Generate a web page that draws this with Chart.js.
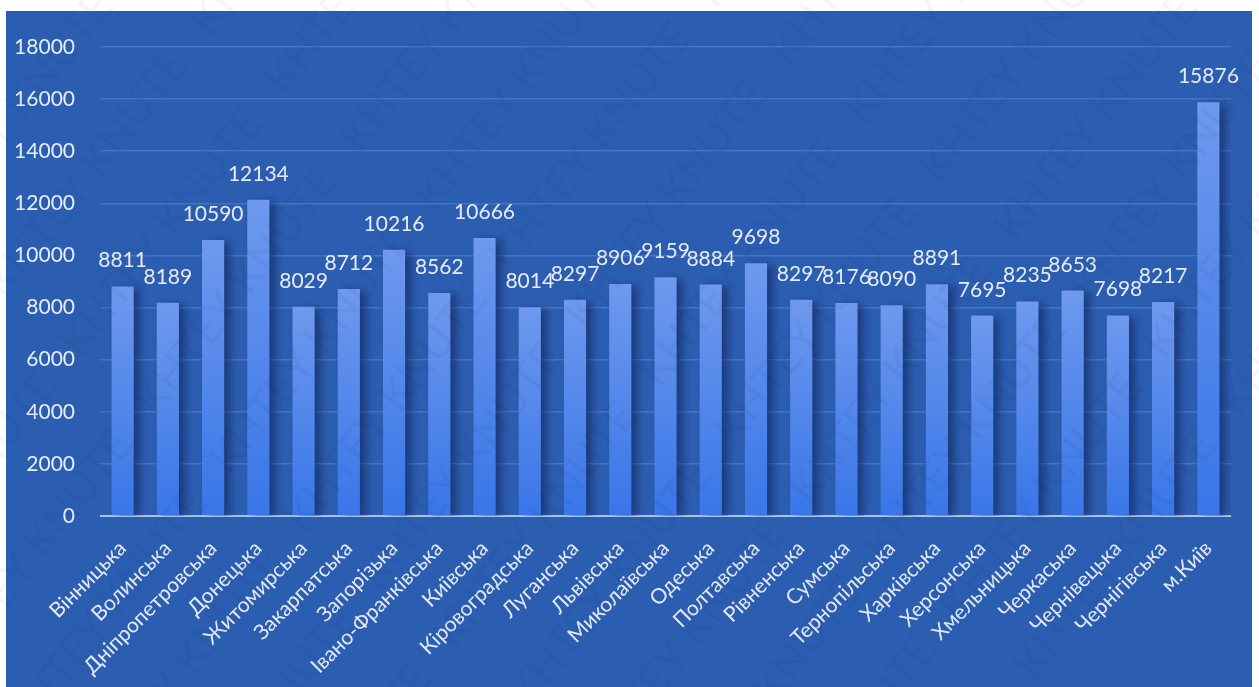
<!DOCTYPE html>
<html>
<head>
<meta charset="utf-8">
<script src="https://cdn.jsdelivr.net/npm/chart.js@4.4.1/dist/chart.umd.min.js"></script>
<style>
    html, body { margin: 0; padding: 0; background: #fff; overflow: hidden; }
    #wrap { width: 1259px; height: 687px; }
</style>
</head>
<body>
<div id="wrap"><canvas id="chart" width="1259" height="687"></canvas></div>
<script>
const regions = [
    'Вінницька', 'Волинська', 'Дніпропетровська', 'Донецька', 'Житомирська',
    'Закарпатська', 'Запорізька', 'Івано-Франківська', 'Київська', 'Кіровоградська',
    'Луганська', 'Львівська', 'Миколаївська', 'Одеська', 'Полтавська',
    'Рівненська', 'Сумська', 'Тернопільська', 'Харківська', 'Херсонська',
    'Хмельницька', 'Черкаська', 'Чернівецька', 'Чернігівська', 'м.Київ'
];
const values = [
    8811, 8189, 10590, 12134, 8029,
    8712, 10216, 8562, 10666, 8014,
    8297, 8906, 9159, 8884, 9698,
    8297, 8176, 8090, 8891, 7695,
    8235, 8653, 7698, 8217, 15876
];
const yMax = 18000;
const yStep = 2000;
const watermark = 'KHTEY KNUTE';

const FONT = 'Lato, "Open Sans", sans-serif';

// blue panel behind the plot (page has a thin white margin)
const panel = {
    id: 'panel',
    beforeDraw(chart) {
        const ctx = chart.ctx;
        ctx.save();
        ctx.fillStyle = '#2b5db1';
        ctx.fillRect(6, 11, 1246, 676);
        ctx.restore();
    }
};

// dark drop shadow to the right of each bar
const barShadow = {
    id: 'barShadow',
    beforeDatasetDraw(chart) {
        const ctx = chart.ctx;
        ctx.save();
        ctx.shadowColor = 'rgba(12, 30, 80, 0.55)';
        ctx.shadowBlur = 9;
        ctx.shadowOffsetX = 6;
        ctx.shadowOffsetY = 2;
    },
    afterDatasetDraw(chart) {
        chart.ctx.restore();
    }
};

const valueLabels = {
    id: 'valueLabels',
    afterDatasetsDraw(chart) {
        const ctx = chart.ctx;
        const meta = chart.getDatasetMeta(0);
        ctx.save();
        ctx.font = '21px ' + FONT;
        ctx.fillStyle = '#e6ebf4';
        ctx.textAlign = 'center';
        ctx.textBaseline = 'alphabetic';
        meta.data.forEach((bar, i) => {
            ctx.fillText(String(values[i]), bar.x, bar.y - 19);
        });
        ctx.restore();
    }
};

// faint diagonal watermark over everything
const watermarkPlugin = {
    id: 'watermark',
    afterDraw(chart) {
        const ctx = chart.ctx;
        ctx.save();
        ctx.font = '44px ' + FONT;
        ctx.fillStyle = 'rgba(10, 25, 70, 0.045)';
        ctx.rotate(-52 * Math.PI / 180);
        const line = (watermark + '   ').repeat(8);
        for (let k = -14; k < 14; k++) {
            ctx.fillText(line, -900, k * 95);
        }
        ctx.restore();
    }
};

function barGradient(c) {
    const chart = c.chart;
    if (!chart.chartArea || c.type !== 'data') return '#4b84e8';
    const y = chart.scales.y;
    const top = y.getPixelForValue(c.raw);
    const bottom = y.getPixelForValue(0);
    const g = chart.ctx.createLinearGradient(0, top, 0, bottom);
    g.addColorStop(0, '#6e99ee');
    g.addColorStop(1, '#3976e8');
    return g;
}

new Chart(document.getElementById('chart'), {
    type: 'bar',
    data: {
        labels: regions,
        datasets: [{
            data: values,
            backgroundColor: barGradient,
            borderWidth: 0,
            barPercentage: 0.49,
            categoryPercentage: 1
        }]
    },
    options: {
        responsive: false,
        animation: false,
        layout: { padding: { left: 6, right: 28, top: 47, bottom: 0 } },
        scales: {
            x: {
                grid: { display: false, drawTicks: false },
                border: { display: false },
                ticks: {
                    color: '#e3e9f3',
                    font: { family: FONT, size: 21 },
                    minRotation: 45,
                    maxRotation: 45,
                    padding: 20,
                    autoSkip: false
                },
                afterFit: s => { s.height = 171; }
            },
            y: {
                min: 0,
                max: yMax,
                grid: {
                    drawTicks: false,
                    lineWidth: c => c.tick && c.tick.value === 0 ? 2 : 1.5,
                    color: c => c.tick && c.tick.value === 0 ? 'rgba(215, 228, 250, 0.75)' : 'rgba(120, 160, 225, 0.35)'
                },
                border: { display: false },
                ticks: {
                    stepSize: yStep,
                    color: '#e9eef6',
                    font: { family: FONT, size: 21 },
                    padding: 25,
                    callback: v => String(v)
                },
                afterFit: s => { s.width = 94; }
            }
        },
        plugins: {
            legend: { display: false },
            tooltip: { enabled: false }
        }
    },
    plugins: [panel, barShadow, valueLabels, watermarkPlugin]
});
</script>
</body>
</html>
